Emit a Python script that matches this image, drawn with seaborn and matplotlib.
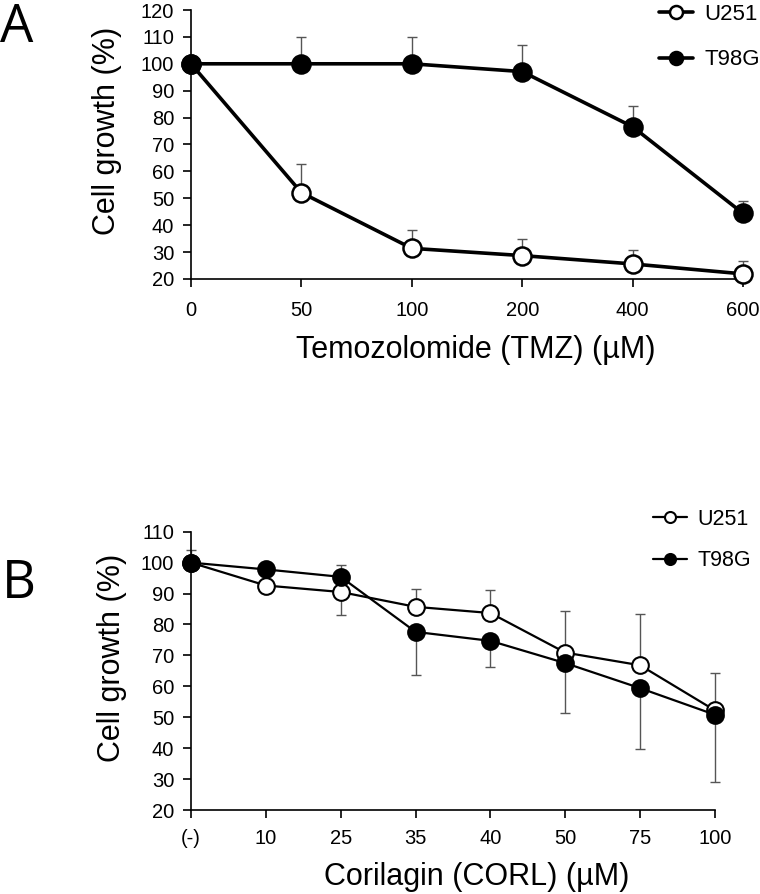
import matplotlib
matplotlib.use("Agg")
import matplotlib.pyplot as plt
import pandas as pd
import seaborn as sns

# panel A: temozolomide
tmz_doses = ["0", "50", "100", "200", "400", "600"]
tmz_u251 = [100, 52.1, 31.4, 28.7, 25.6, 21.9]
tmz_u251_err = [0, 10.5, 6.8, 6.1, 5.3, 4.8]
tmz_t98g = [100, 100, 100, 97.1, 76.6, 44.4]
tmz_t98g_err = [0, 10, 10, 10, 7.7, 4.6]

# panel B: corilagin
corl_doses = ["(-)", "10", "25", "35", "40", "50", "75", "100"]
corl_u251 = [100, 92.6, 90.5, 85.7, 83.7, 70.9, 66.8, 52.2]
corl_u251_err = [4.1, 1, 8.6, 5.9, 7.6, 13.5, 16.6, 12.2]
corl_t98g = [100, 97.8, 95.4, 77.6, 74.7, 67.5, 59.4, 50.8]
corl_t98g_err = [1, 1.5, 12.5, 14.1, 8.5, 16.1, 19.8, 21.6]

sns.set_style("ticks")
plt.rcParams["font.family"] = ["Liberation Sans", "DejaVu Sans"]
plt.rcParams["text.color"] = "black"
plt.rcParams["axes.labelcolor"] = "black"

W, H = 760, 894
fig = plt.figure(figsize=(W / 100, H / 100), dpi=100)
ax_a = fig.add_axes([191 / W, 1 - 279 / H, 552 / W, 269 / H])
ax_b = fig.add_axes([191 / W, 1 - 810 / H, 524 / W, 278.3 / H])


def draw_panel(ax, doses, u251, u251_err, t98g, t98g_err, err_down, ms, lw, mew):
    df = pd.DataFrame({
        "dose": doses * 2,
        "growth": u251 + t98g,
        "cell": ["U251"] * len(doses) + ["T98G"] * len(doses),
    })
    zeros = [0] * len(doses)
    ax.errorbar(doses, u251, yerr=[zeros, u251_err], fmt="none",
                ecolor="#555555", elinewidth=1, capsize=3.5, capthick=1,
                zorder=1, clip_on=False)
    t_err = [t98g_err, zeros] if err_down else [zeros, t98g_err]
    ax.errorbar(doses, t98g, yerr=t_err, fmt="none",
                ecolor="#555555", elinewidth=1, capsize=3.5, capthick=1,
                zorder=1, clip_on=False)
    for cell, face in [("U251", "white"), ("T98G", "black")]:
        sns.lineplot(data=df[df["cell"] == cell], x="dose", y="growth",
                     color="black", marker="o", markersize=ms,
                     markerfacecolor=face, markeredgecolor="black",
                     markeredgewidth=mew, linewidth=lw, sort=False,
                     label=cell, ax=ax, clip_on=False, zorder=3)
    sns.despine(ax=ax)
    ax.set_xlim(0, len(doses) - 1)
    for side in ["left", "bottom"]:
        ax.spines[side].set_linewidth(1.2)
        ax.spines[side].set_color("black")
    ax.tick_params(axis="both", direction="out", length=6, width=1.2,
                   color="black", labelsize=14.5, labelcolor="black")


draw_panel(ax_a, tmz_doses, tmz_u251, tmz_u251_err, tmz_t98g, tmz_t98g_err,
           False, 13, 2.6, 1.8)
ax_a.set_ylim(20, 120)
ax_a.set_yticks(range(20, 121, 10))
ax_a.tick_params(axis="x", pad=10)
ax_a.tick_params(axis="y", pad=6)
ax_a.set_xlabel("Temozolomide (TMZ) (µM)", fontsize=22)
ax_a.set_ylabel("Cell growth (%)", fontsize=22)
ax_a.xaxis.set_label_coords(0.516, -0.208)
ax_a.yaxis.set_label_coords(-0.125, 0.55)
ax_a.legend(loc="upper left", bbox_to_anchor=(659 / W, 1 - 4 / H),
            bbox_transform=fig.transFigure, frameon=False, fontsize=16,
            borderpad=0, borderaxespad=0, handlelength=1.55,
            handletextpad=0.5, labelspacing=1.1, markerscale=0.72)

draw_panel(ax_b, corl_doses, corl_u251, corl_u251_err, corl_t98g, corl_t98g_err,
           True, 12, 1.6, 1.5)
ax_b.set_ylim(20, 110)
ax_b.set_yticks(range(20, 111, 10))
ax_b.tick_params(axis="x", pad=8)
ax_b.tick_params(axis="y", pad=6)
ax_b.set_xlabel("Corilagin (CORL) (µM)", fontsize=22)
ax_b.set_ylabel("Cell growth (%)", fontsize=22)
ax_b.xaxis.set_label_coords(0.546, -0.187)
ax_b.yaxis.set_label_coords(-0.122, 0.546)
ax_b.legend(loc="upper left", bbox_to_anchor=(653 / W, 1 - 509 / H),
            bbox_transform=fig.transFigure, frameon=False, fontsize=15.5,
            borderpad=0, borderaxespad=0, handlelength=1.6,
            handletextpad=0.45, labelspacing=0.95, markerscale=0.66)

fig.text(0.0, 1 - 42 / H, "A", fontsize=38, family="Open Sans",
         ha="left", va="baseline")
fig.text(0.002, 1 - 598 / H, "B", fontsize=38, family="Open Sans",
         ha="left", va="baseline")

fig.savefig("out.png", dpi=100)
